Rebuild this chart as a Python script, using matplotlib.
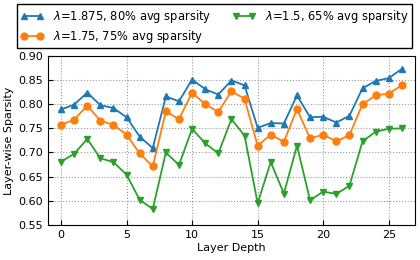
import numpy as np
import matplotlib
matplotlib.use('Agg')
import matplotlib.pyplot as plt

# layer-wise sparsity
layers = list(range(27))

blue = [0.789, 0.799, 0.824, 0.798, 0.792, 0.773, 0.733, 0.709, 0.816, 0.806,
        0.851, 0.831, 0.820, 0.849, 0.839, 0.751, 0.761, 0.760, 0.818, 0.773,
        0.774, 0.762, 0.776, 0.833, 0.848, 0.854, 0.873]
orange = [0.757, 0.768, 0.797, 0.766, 0.757, 0.737, 0.698, 0.671, 0.785, 0.769,
          0.824, 0.800, 0.784, 0.827, 0.811, 0.714, 0.737, 0.722, 0.790, 0.729,
          0.737, 0.723, 0.736, 0.800, 0.818, 0.822, 0.839]
green = [0.681, 0.697, 0.728, 0.688, 0.680, 0.654, 0.602, 0.583, 0.700, 0.674,
         0.749, 0.719, 0.698, 0.769, 0.735, 0.595, 0.680, 0.615, 0.714, 0.601,
         0.619, 0.614, 0.631, 0.723, 0.743, 0.749, 0.750]

labels = [r'$\lambda$=1.875, 80% avg sparsity',
          r'$\lambda$=1.75, 75% avg sparsity',
          r'$\lambda$=1.5, 65% avg sparsity']

fig = plt.figure(figsize=(4.2, 2.6), dpi=100)
ax = fig.add_axes([0.114, 0.135, 0.874, 0.65])

ax.plot(layers, blue, color='#1f77b4', marker='^', markersize=5, lw=1.3, label=labels[0])
ax.plot(layers, orange, color='#ff7f0e', marker='o', markersize=5, lw=1.3, label=labels[1])
ax.plot(layers, green, color='#2ca02c', marker='v', markersize=5, lw=1.3, label=labels[2])

ax.set_xlim(-1, 27)
ax.set_ylim(0.55, 0.90)
ax.set_xticks([0, 5, 10, 15, 20, 25])
ax.set_yticks(np.arange(0.55, 0.901, 0.05))
ax.tick_params(direction='in', labelsize=8)
ax.grid(True, linestyle=':', color='#999999', lw=0.8)
ax.set_xlabel('Layer Depth', fontsize=8, labelpad=2)
ax.set_ylabel('Layer-wise Sparsity', fontsize=8, labelpad=3)

# legend order: blue, orange in first column, green in second
h, l = ax.get_legend_handles_labels()
ax.legend(h, l, ncol=2, loc='upper left', bbox_to_anchor=(-0.084, 1.305, 1.076, 0.0),
          mode='expand', fancybox=False, edgecolor='black', fontsize=8.3,
          handlelength=2, numpoints=2, borderaxespad=0, framealpha=1,
          labelspacing=0.25, borderpad=0.3, columnspacing=1.0)

fig.savefig('out.png', dpi=100)
